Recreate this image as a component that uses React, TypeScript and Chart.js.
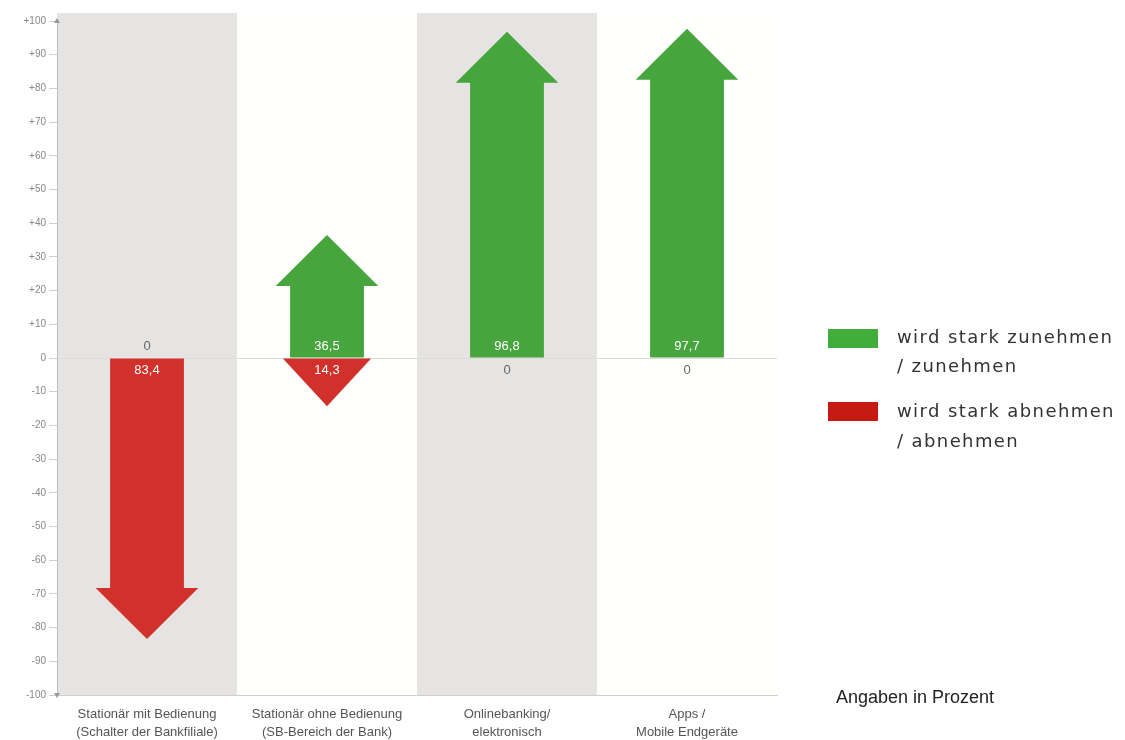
import { useEffect, useRef } from "react";
import { Chart, registerables } from "chart.js";

Chart.register(...registerables);

const categories: string[][] = [
  ["Stationär mit Bedienung", "(Schalter der Bankfiliale)"],
  ["Stationär ohne Bedienung", "(SB-Bereich der Bank)"],
  ["Onlinebanking/", "elektronisch"],
  ["Apps /", "Mobile Endgeräte"],
];
const increase = [0, 36.5, 96.8, 97.7];
const decrease = [-83.4, -14.3, 0, 0];
const yMin = -100;
const yMax = 100;
const yStep = 10;
const legendLabels: string[][] = [
  ["wird stark zunehmen", "/ zunehmen"],
  ["wird stark abnehmen", "/ abnehmen"],
];
const noteText = "Angaben in Prozent";

const GREEN = "#46a53c";
const RED = "#d2302a";
const LEGEND_COLORS = ["#41ad3a", "#c61b12"];
const BAND = "#e6e4e3";

const fmt = (v: number) => Math.abs(v).toString().replace(".", ",");

const bandsPlugin = {
  id: "bands",
  beforeDraw(chart: any) {
    const { ctx, chartArea } = chart;
    const xs = chart.scales.x;
    const n = categories.length;
    const step = (chartArea.right - chartArea.left) / n;
    ctx.save();
    for (let i = 0; i < n; i++) {
      const cx = xs.getPixelForValue(i);
      ctx.fillStyle = i % 2 === 0 ? BAND : "#fffffd";
      ctx.fillRect(cx - step / 2, chartArea.top - 8, step, chartArea.bottom - chartArea.top + 8);
    }
    ctx.restore();
  },
};

const arrowsPlugin = {
  id: "arrows",
  beforeDatasetDraw() {
    return false;
  },
  afterDatasetsDraw(chart: any) {
    const ctx = chart.ctx;
    ctx.save();
    chart.data.datasets.forEach((ds: any, di: number) => {
      const meta = chart.getDatasetMeta(di);
      meta.data.forEach((bar: any, i: number) => {
        const v = ds.data[i];
        if (!v) return;
        const { x, y, base, width } = bar.getProps(["x", "y", "base", "width"], true);
        const dir = y < base ? -1 : 1;
        const len = Math.abs(y - base);
        const headH = 51;
        const headW = width * 1.39;
        ctx.fillStyle = ds.backgroundColor;
        ctx.beginPath();
        if (len > headH) {
          const neck = y - dir * headH;
          ctx.moveTo(x - width / 2, base);
          ctx.lineTo(x - width / 2, neck);
          ctx.lineTo(x - headW / 2, neck);
          ctx.lineTo(x, y);
          ctx.lineTo(x + headW / 2, neck);
          ctx.lineTo(x + width / 2, neck);
          ctx.lineTo(x + width / 2, base);
        } else {
          const w = ((headW * len) / headH) * 0.92;
          ctx.moveTo(x - w / 2, base);
          ctx.lineTo(x, y);
          ctx.lineTo(x + w / 2, base);
        }
        ctx.closePath();
        ctx.fill();
      });
    });

    // value labels
    const xs = chart.scales.x;
    const ys = chart.scales.y;
    const zero = ys.getPixelForValue(0);
    ctx.font = "13px 'Liberation Sans', Arial, sans-serif";
    ctx.textAlign = "center";
    ctx.textBaseline = "middle";
    for (let i = 0; i < categories.length; i++) {
      const cx = xs.getPixelForValue(i);
      const inc = increase[i];
      const dec = decrease[i];
      ctx.fillStyle = inc ? "#ffffff" : "#666666";
      ctx.fillText(fmt(inc), cx, zero - 12);
      ctx.fillStyle = dec ? "#ffffff" : "#666666";
      ctx.fillText(fmt(dec), cx, zero + 12);
    }

    // small arrow markers on y axis
    const ax = chart.chartArea.left;
    ctx.fillStyle = "#999";
    ctx.beginPath();
    ctx.moveTo(ax - 3, ys.top + 2);
    ctx.lineTo(ax, ys.top - 3);
    ctx.lineTo(ax + 3, ys.top + 2);
    ctx.closePath();
    ctx.fill();
    ctx.beginPath();
    ctx.moveTo(ax - 3, ys.bottom - 2);
    ctx.lineTo(ax, ys.bottom + 3);
    ctx.lineTo(ax + 3, ys.bottom - 2);
    ctx.closePath();
    ctx.fill();
    ctx.restore();
  },
};

const legendPlugin = {
  id: "customLegend",
  afterDraw(chart: any) {
    const ctx = chart.ctx;
    ctx.save();
    const boxX = 828;
    const textX = 897;
    const rows = [
      { boxY: 329, lines: [338, 367] },
      { boxY: 402, lines: [412, 442] },
    ];
    rows.forEach((r, i) => {
      ctx.fillStyle = LEGEND_COLORS[i];
      ctx.fillRect(boxX, r.boxY, 50, 19);
      ctx.fillStyle = "#333333";
      ctx.font = "18px 'DejaVu Sans', Verdana, sans-serif";
      (ctx as any).letterSpacing = "1.4px";
      ctx.textAlign = "left";
      ctx.textBaseline = "middle";
      legendLabels[i].forEach((t, j) => ctx.fillText(t, textX, r.lines[j]));
    });
    (ctx as any).letterSpacing = "0px";
    ctx.fillStyle = "#222222";
    ctx.font = "18px 'Liberation Sans', Arial, sans-serif";
    ctx.textBaseline = "middle";
    ctx.textAlign = "left";
    ctx.fillText(noteText, 836, 698);
    ctx.restore();
  },
};

export default function App() {
  const ref = useRef<HTMLCanvasElement | null>(null);
  useEffect(() => {
    if (!ref.current) return;
    const chart = new Chart(ref.current, {
      type: "bar",
      data: {
        labels: categories,
        datasets: [
          {
            label: legendLabels[0].join(" "),
            data: increase,
            backgroundColor: GREEN,
            barPercentage: 0.41,
            categoryPercentage: 1,
          },
          {
            label: legendLabels[1].join(" "),
            data: decrease,
            backgroundColor: RED,
            barPercentage: 0.41,
            categoryPercentage: 1,
          },
        ],
      },
      options: {
        animation: false,
        responsive: false,
        maintainAspectRatio: false,
        layout: { padding: { left: 0, top: 21, right: 348, bottom: 0 } },
        plugins: { legend: { display: false }, tooltip: { enabled: false } },
        scales: {
          x: {
            stacked: true,
            grid: { display: false },
            border: { display: true, color: "#cfcfcf" },
            ticks: {
              color: "#555555",
              font: { family: "'Liberation Sans', Arial, sans-serif", size: 13, lineHeight: 1.4 },
              padding: 2,
              maxRotation: 0,
              autoSkip: false,
            },
            afterFit: (s: any) => {
              s.height = 45;
            },
          },
          y: {
            stacked: true,
            min: yMin,
            max: yMax,
            ticks: {
              stepSize: yStep,
              color: "#888888",
              font: { family: "'Liberation Sans', Arial, sans-serif", size: 10 },
              padding: 3,
              callback: (v: any) => (v > 0 ? "+" + v : String(v)),
            },
            grid: {
              color: (c: any) => (c.tick && c.tick.value === 0 ? "#dcdcdc" : "rgba(0,0,0,0)"),
              tickColor: "#d0d0d0",
              tickLength: 8,
              lineWidth: 1,
            },
            border: { display: true, color: "#bdbdbd" },
            afterFit: (s: any) => {
              s.width = 57;
            },
          },
        },
      },
      plugins: [bandsPlugin, arrowsPlugin, legendPlugin],
    });
    return () => chart.destroy();
  }, []);
  return (
    <div style={{ position: "fixed", left: 0, top: 0, width: 1125, height: 740, background: "#ffffff" }}>
      <canvas ref={ref} width={1125} height={740} style={{ width: 1125, height: 740 }} />
    </div>
  );
}
